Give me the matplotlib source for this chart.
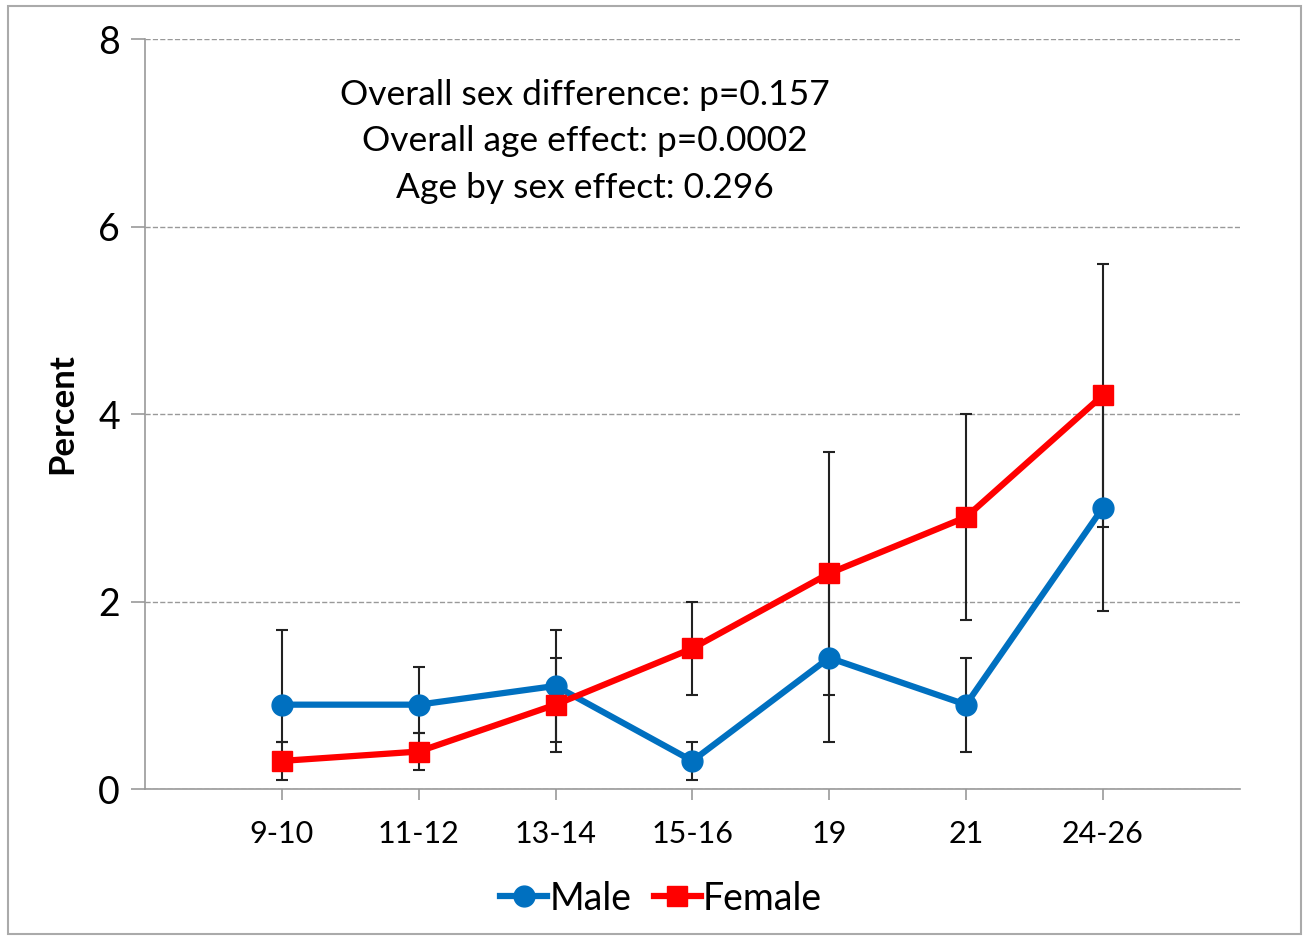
import numpy as np
import matplotlib.pyplot as plt

ages = ['9-10', '11-12', '13-14', '15-16', '19', '21', '24-26']
male = [0.9, 0.9, 1.1, 0.3, 1.4, 0.9, 3.0]
female = [0.3, 0.4, 0.9, 1.5, 2.3, 2.9, 4.2]
male_lo = [0.5, 0.6, 0.5, 0.1, 0.5, 0.4, 1.9]
male_hi = [1.7, 1.3, 1.7, 0.5, 2.3, 1.4, 4.2]
female_lo = [0.1, 0.2, 0.4, 1.0, 1.0, 1.8, 2.8]
female_hi = [0.5, 0.6, 1.4, 2.0, 3.6, 4.0, 5.6]
notes = ['Overall sex difference: p=0.157',
         'Overall age effect: p=0.0002',
         'Age by sex effect: 0.296']

plt.rcParams['font.family'] = ['Lato', 'DejaVu Sans']

fig = plt.figure(figsize=(13.09, 9.38), dpi=100)
ax = fig.add_axes([0.1108, 0.1588, 0.8362, 0.7996])
x = np.arange(1, len(ages) + 1)

m = np.array(male)
f = np.array(female)
ax.errorbar(x, m, yerr=[m - np.array(male_lo), np.array(male_hi) - m],
            fmt='none', ecolor='#222222', elinewidth=1.5, capsize=4,
            capthick=1.5, zorder=2)
ax.errorbar(x, f, yerr=[f - np.array(female_lo), np.array(female_hi) - f],
            fmt='none', ecolor='#222222', elinewidth=1.5, capsize=4,
            capthick=1.5, zorder=2)

ax.plot(x, male, color='#0070C0', lw=4.5, marker='o', ms=15,
        label='Male', zorder=3)
ax.plot(x, female, color='#FF0000', lw=4.5, marker='s', ms=14,
        label='Female', zorder=3)

ax.set_xlim(0, 8)
ax.set_ylim(0, 8)
ax.set_xticks(x)
ax.set_xticklabels(ages, fontsize=22)
ax.set_yticks([0, 2, 4, 6, 8])
ax.tick_params(axis='y', labelsize=27, length=10, color='#999999',
               width=1.2, pad=8)
ax.tick_params(axis='x', length=8, color='#999999', width=1.2, pad=14)
ax.yaxis.grid(True, linestyle='--', color='#999999', lw=1)
ax.set_axisbelow(True)
for s in ['top', 'right']:
    ax.spines[s].set_visible(False)
for s in ['left', 'bottom']:
    ax.spines[s].set_color('#999999')
    ax.spines[s].set_linewidth(1.2)

ax.set_ylabel('Percent', fontsize=25, fontweight='bold', labelpad=14)

for i, t in enumerate(notes):
    ax.text(0.402, 0.926 - i * 0.062, t, transform=ax.transAxes,
            ha='center', va='center', fontsize=25.5)

fig.legend(loc='center', bbox_to_anchor=(0.505, 0.042), ncol=2,
           frameon=False, fontsize=27, handlelength=1.25, handletextpad=0.05,
           columnspacing=0.6, markerscale=1.0)

fig.patches.append(plt.Rectangle((0.006, 0.004), 0.988, 0.99,
                                 transform=fig.transFigure, fill=False,
                                 edgecolor='#aaaaaa', lw=1.5))

fig.savefig('out.png', dpi=100)
